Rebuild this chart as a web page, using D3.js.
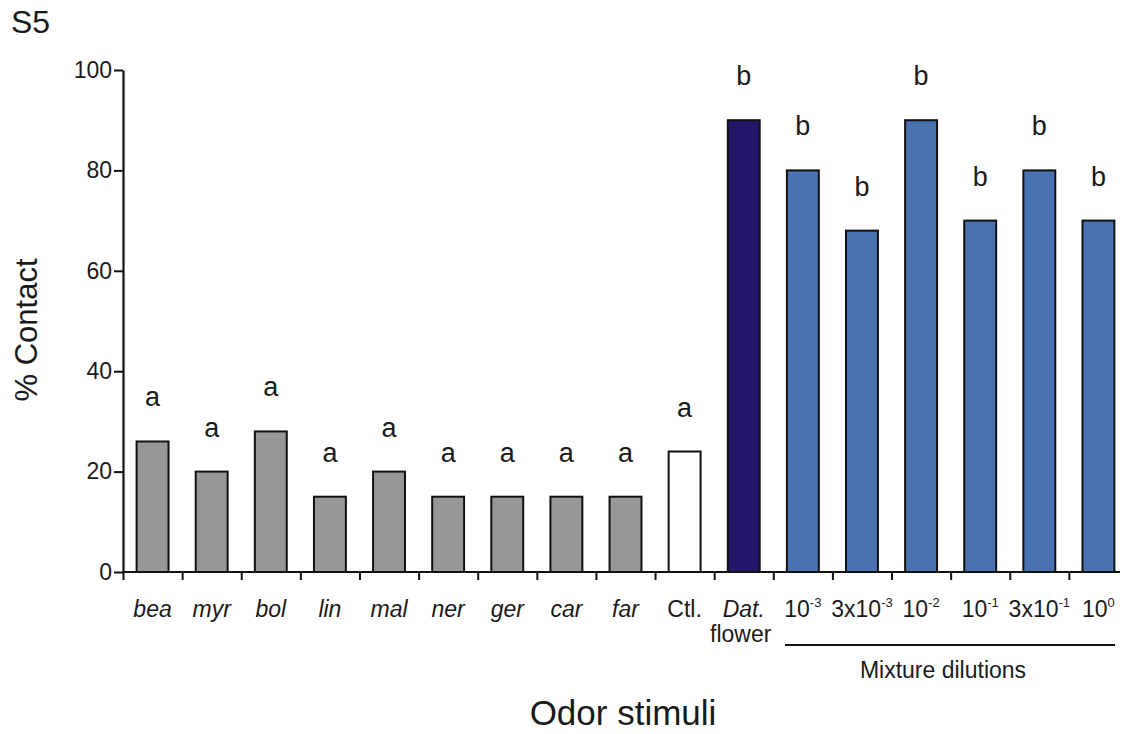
<!DOCTYPE html>
<html>
<head>
<meta charset="utf-8">
<script src="https://cdn.jsdelivr.net/npm/d3@7"></script>
<style>
  body { margin: 0; background: #fff; }
  text { font-family: "Liberation Sans", Arial, sans-serif; fill: #1a1a1a; }
</style>
</head>
<body>
<div id="chart"></div>
<script>
// Categories along the x axis
var categories = ["bea", "myr", "bol", "lin", "mal", "ner", "ger", "car", "far", "Ctl.", "Dat.", "1e-3", "3e-3", "1e-2", "1e-1", "3e-1", "1e0"];
// % contact per stimulus
var contactValues = [26, 20, 28, 15, 20, 15, 15, 15, 15, 24, 90, 80, 68, 90, 70, 80, 70];
// significance letters above bars
var sigLetters = ["a", "a", "a", "a", "a", "a", "a", "a", "a", "a", "b", "b", "b", "b", "b", "b", "b"];
// group of each bar (decides fill)
var groups = ["odor", "odor", "odor", "odor", "odor", "odor", "odor", "odor", "odor", "control", "flower", "mix", "mix", "mix", "mix", "mix", "mix"];
// tick label parts: [base, superscript]
var tickLabels = [["bea"], ["myr"], ["bol"], ["lin"], ["mal"], ["ner"], ["ger"], ["car"], ["far"], ["Ctl."], ["Dat."],
    ["10", "-3"], ["3x10", "-3"], ["10", "-2"], ["10", "-1"], ["3x10", "-1"], ["10", "0"]];
var italicLabels = ["bea", "myr", "bol", "lin", "mal", "ner", "ger", "car", "far", "Dat."];
var yTicks = [0, 20, 40, 60, 80, 100];

var colors = { odor: "#979797", control: "#ffffff", flower: "#23166b", mix: "#4a71b0" };

var W = 1123, H = 734;
var x0 = 123, x1 = 1128, axisEnd = 1120;

var svg = d3.select("#chart").append("svg")
    .attr("width", W)
    .attr("height", H);

var x = d3.scaleBand()
    .domain(categories)
    .range([x0, x1])
    .paddingInner(0.46)
    .paddingOuter(0.23);

var y = d3.scaleLinear().domain([0, 100]).range([572, 70]);

// Y axis
var yAxis = svg.append("g")
    .attr("transform", "translate(" + x0 + ",0)")
    .call(d3.axisLeft(y).tickValues(yTicks).tickSize(9).tickSizeOuter(0));
yAxis.select(".domain").attr("stroke", "#111").attr("stroke-width", 2.2);
yAxis.selectAll(".tick line").attr("stroke", "#111").attr("stroke-width", 2);
yAxis.selectAll(".tick text")
    .attr("x", -11)
    .style("font-size", "23px")
    .style("font-family", "Liberation Sans, Arial, sans-serif")
    .attr("fill", "#1a1a1a");

// X axis: ticks at band boundaries
var idx = d3.scaleLinear().domain([0, categories.length]).range([x0, x1]);
var xAxis = svg.append("g")
    .attr("transform", "translate(0," + y(0) + ")")
    .call(d3.axisBottom(idx).tickValues(d3.range(0, categories.length)).tickFormat("").tickSize(8).tickSizeOuter(0));
xAxis.select(".domain").remove();
xAxis.selectAll(".tick line").attr("stroke", "#111").attr("stroke-width", 2);
xAxis.append("line")
    .attr("x1", x0).attr("x2", axisEnd)
    .attr("stroke", "#111").attr("stroke-width", 2.2);

// Bars
svg.selectAll(".bar")
    .data(categories)
    .enter().append("rect")
    .attr("class", "bar")
    .attr("x", function(d) { return x(d); })
    .attr("y", function(d, i) { return y(contactValues[i]); })
    .attr("width", x.bandwidth())
    .attr("height", function(d, i) { return y(0) - y(contactValues[i]); })
    .attr("fill", function(d, i) { return colors[groups[i]]; })
    .attr("stroke", "#111")
    .attr("stroke-width", 2);

// Significance letters
svg.selectAll(".sig")
    .data(categories)
    .enter().append("text")
    .attr("class", "sig")
    .attr("x", function(d) { return x(d) + x.bandwidth() / 2; })
    .attr("y", function(d, i) { return y(contactValues[i]) - 35; })
    .attr("text-anchor", "middle")
    .style("font-size", "27px")
    .text(function(d, i) { return sigLetters[i]; });

// X tick labels
var lbl = svg.selectAll(".xlab")
    .data(categories)
    .enter().append("text")
    .attr("class", "xlab")
    .attr("x", function(d) { return x(d) + x.bandwidth() / 2; })
    .attr("y", 617)
    .attr("text-anchor", "middle")
    .style("font-size", "23px")
    .style("font-style", function(d, i) { return italicLabels.indexOf(tickLabels[i][0]) >= 0 ? "italic" : "normal"; });
lbl.each(function(d, i) {
    var t = d3.select(this);
    var parts = tickLabels[i];
    t.append("tspan").text(parts[0]);
    if (parts.length > 1) {
        t.append("tspan")
            .attr("dy", -10)
            .style("font-size", "13px")
            .text(parts[1]);
    }
});

// "flower" under Dat.
svg.append("text")
    .attr("x", x("Dat.") + x.bandwidth() / 2 - 3)
    .attr("y", 642)
    .attr("text-anchor", "middle")
    .style("font-size", "23px")
    .text("flower");

// Mixture dilutions bracket
svg.append("line")
    .attr("x1", 785).attr("x2", 1115)
    .attr("y1", 645).attr("y2", 645)
    .attr("stroke", "#111").attr("stroke-width", 2);
svg.append("text")
    .attr("x", 943)
    .attr("y", 678)
    .attr("text-anchor", "middle")
    .style("font-size", "23px")
    .text("Mixture dilutions");

// Axis titles
svg.append("text")
    .attr("transform", "translate(37,330) rotate(-90)")
    .attr("text-anchor", "middle")
    .style("font-size", "31px")
    .text("% Contact");

svg.append("text")
    .attr("x", 623)
    .attr("y", 725)
    .attr("text-anchor", "middle")
    .style("font-size", "35px")
    .text("Odor stimuli");

// Panel label
svg.append("text")
    .attr("x", 11)
    .attr("y", 33)
    .style("font-size", "32px")
    .text("S5");
</script>
</body>
</html>
